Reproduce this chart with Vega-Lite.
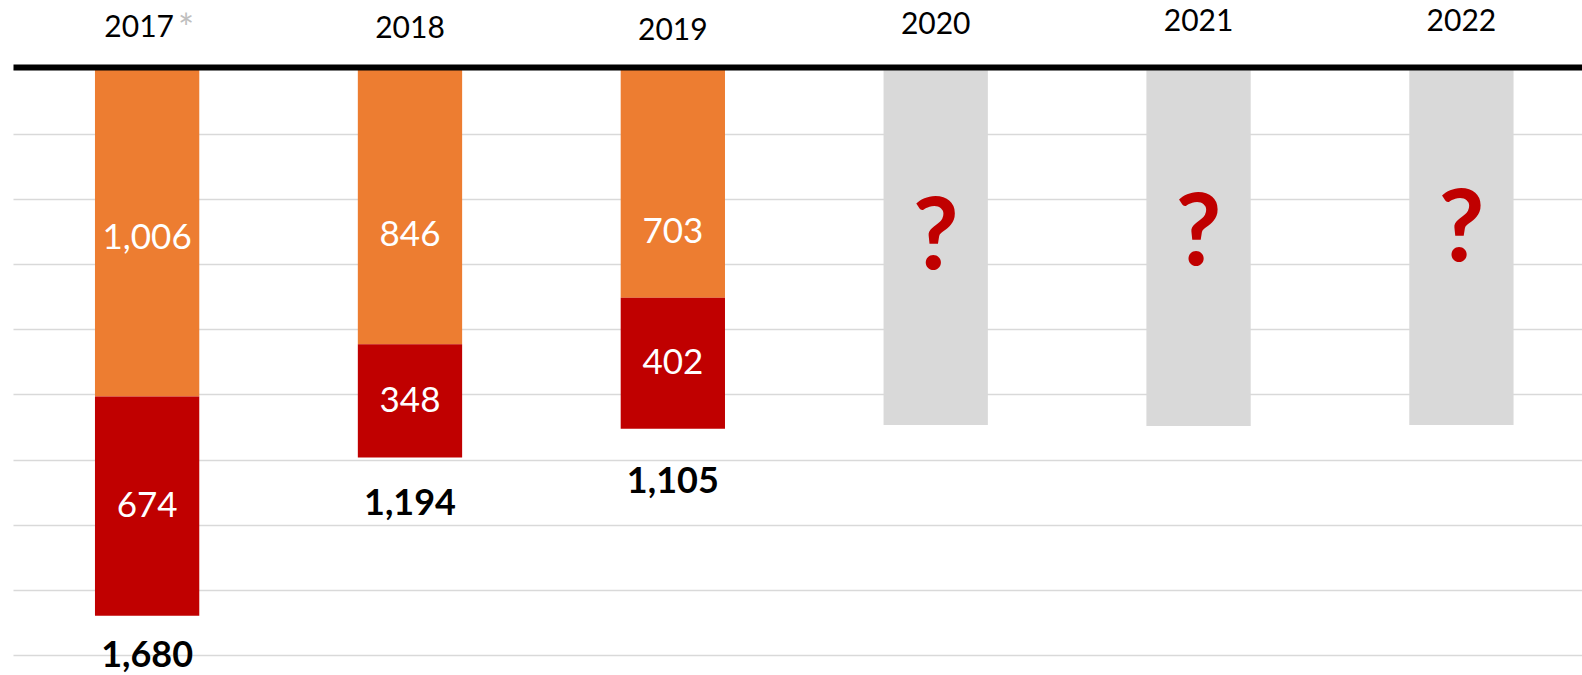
{
  "$schema": "https://vega.github.io/schema/vega-lite/v6.json",
  "width": 1569,
  "height": 606,
  "autosize": {"type": "none"},
  "padding": {"left": 13, "top": 69, "right": 0, "bottom": 0},
  "background": "white",
  "config": {"view": {"stroke": null}, "font": "Lato"},
  "data": {
    "values": [
      {"year": "2017", "type": "orange", "value": 1006},
      {"year": "2017", "type": "red", "value": 674},
      {"year": "2018", "type": "orange", "value": 846},
      {"year": "2018", "type": "red", "value": 348},
      {"year": "2019", "type": "orange", "value": 703},
      {"year": "2019", "type": "red", "value": 402},
      {"year": "2020", "type": "unknown", "value": 1094},
      {"year": "2021", "type": "unknown", "value": 1097},
      {"year": "2022", "type": "unknown", "value": 1094}
    ]
  },
  "transform": [
    {"stack": "value", "groupby": ["year"], "sort": [{"field": "type", "order": "ascending"}], "as": ["v0", "v1"]}
  ],
  "layer": [
    {
      "mark": {"type": "bar"},
      "encoding": {
        "x": {
          "field": "year", "type": "nominal",
          "scale": {"paddingInner": 0.6032, "paddingOuter": 0.2861, "align": 0.545},
          "axis": {
            "orient": "top", "title": null, "domainColor": "#000000", "domainWidth": 6,
            "ticks": false, "tickSize": 0, "labelFont": "Lato", "labelFontSize": 30,
            "labelColor": "#000000", "labelAngle": 0, "offset": 2, "zindex": 1, "grid": false,
            "labelOverlap": false, "labelBound": false,
            "labelPadding": {"condition": [
              {"test": "datum.value == '2018'", "value": 24},
              {"test": "datum.value == '2019'", "value": 22},
              {"test": "datum.value == '2020'", "value": 28},
              {"test": "datum.value == '2021'", "value": 31},
              {"test": "datum.value == '2022'", "value": 31}
            ], "value": 25},
            "labelOffset": {"condition": {"test": "datum.value == '2017'", "value": -8}, "value": 0}
          }
        },
        "y": {
          "field": "v0", "type": "quantitative",
          "scale": {"domain": [0, 1862], "reverse": true, "nice": false, "zero": true},
          "axis": {
            "values": [0, 200, 400, 600, 800, 1000, 1200, 1400, 1600, 1800],
            "grid": true, "gridColor": "#D9D9D9", "gridWidth": 1.5,
            "domain": false, "ticks": false, "labels": false, "title": null
          }
        },
        "y2": {"field": "v1"},
        "color": {
          "field": "type", "type": "nominal",
          "scale": {"domain": ["orange", "red", "unknown"], "range": ["#ED7D31", "#C00000", "#D9D9D9"]},
          "legend": null
        }
      }
    },
    {
      "transform": [
        {"filter": "datum.type == 'red'"},
        {"calculate": "(datum.v0 + datum.v1) / 2", "as": "mid"}
      ],
      "mark": {"type": "text", "color": "#FFFFFF", "font": "Lato", "fontSize": 35, "baseline": "middle", "align": "center"},
      "encoding": {
        "x": {"field": "year", "type": "nominal", "axis": null},
        "y": {"field": "mid", "type": "quantitative"},
        "text": {"field": "value", "type": "quantitative", "format": ","}
      }
    },
    {
      "transform": [{"filter": "datum.type == 'orange'"}],
      "mark": {"type": "text", "color": "#FFFFFF", "font": "Lato", "fontSize": 35, "baseline": "middle", "align": "center",
        "dy": {"expr": "datum.year == '2017' ? 3 : datum.year == '2019' ? -3 : 0"}},
      "encoding": {
        "x": {"field": "year", "type": "nominal", "axis": null},
        "y": {"datum": 510, "type": "quantitative"},
        "text": {"field": "value", "type": "quantitative", "format": ","}
      }
    },
    {
      "transform": [{"filter": "datum.type == 'unknown'"}],
      "mark": {"type": "text", "color": "#C00000", "font": "Lato", "fontSize": 100, "fontWeight": "bold", "baseline": "middle", "align": "center",
        "dy": {"expr": "datum.year == '2020' ? 4 : datum.year == '2022' ? -4 : 0"}},
      "encoding": {
        "x": {"field": "year", "type": "nominal", "axis": null},
        "y": {"datum": 510, "type": "quantitative"},
        "text": {"value": "?"}
      }
    },
    {
      "transform": [{"filter": "datum.type == 'red'"}],
      "mark": {"type": "text", "color": "#000000", "font": "Lato", "fontSize": 36, "fontWeight": "bold", "baseline": "top", "align": "center",
        "dy": {"expr": "datum.year == '2017' ? 23 : datum.year == '2019' ? 36 : 29"}},
      "encoding": {
        "x": {
          "field": "year", "type": "nominal",
          "axis": {
            "orient": "top", "title": null, "domain": false, "ticks": false, "tickSize": 0,
            "grid": false, "labelFont": "Lato", "labelFontSize": 38, "labelColor": "#BFBFBF",
            "labelAngle": 0, "labelAlign": "left", "labelOffset": 31, "labelPadding": 18, "offset": 2,
            "labelOverlap": false, "labelBound": false,
            "labelExpr": "datum.value == '2017' ? '*' : ''"
          }
        },
        "y": {"field": "v1", "type": "quantitative"},
        "text": {"field": "v1", "type": "quantitative", "format": ","}
      }
    }
  ],
  "resolve": {"axis": {"x": "independent"}}
}
